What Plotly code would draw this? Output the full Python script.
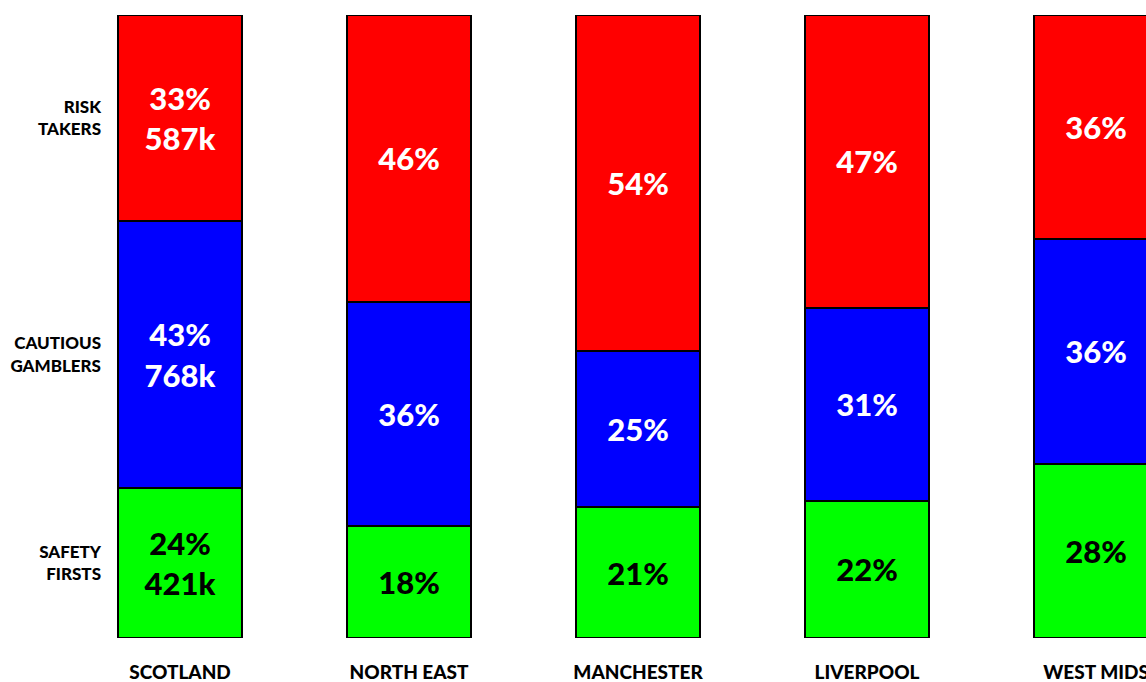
import plotly.graph_objects as go

regions = ["SCOTLAND", "NORTH EAST", "MANCHESTER", "LIVERPOOL", "WEST MIDS"]
safety_firsts = [24, 18, 21, 22, 28]
cautious_gamblers = [43, 36, 25, 31, 36]
risk_takers = [33, 46, 54, 47, 36]

# only Scotland carries head counts
scotland_counts = {"safety": "421k", "cautious": "768k", "risk": "587k"}

group_labels = ["SAFETY<br>FIRSTS", "CAUTIOUS<br>GAMBLERS", "RISK<br>TAKERS"]

FONT = "Lato"


def _labels(values, key):
    out = []
    for i, v in enumerate(values):
        txt = f"{v}%"
        if i == 0:
            txt += "<br>" + scotland_counts[key]
        out.append(txt)
    return out


series = [
    (safety_firsts, "safety", "#00FF00", "black"),
    (cautious_gamblers, "cautious", "#0000FF", "white"),
    (risk_takers, "risk", "#FF0000", "white"),
]

fig = go.Figure()
for values, key, colour, text_colour in series:
    fig.add_trace(go.Bar(
        x=list(range(len(regions))),
        y=values,
        marker=dict(color=colour, line=dict(color="black", width=2)),
        text=_labels(values, key),
        textposition="inside",
        insidetextanchor="middle",
        textangle=0,
        textfont=dict(family=FONT, size=31, color=text_colour, weight=900),
        hoverinfo="skip",
    ))

# y labels sit at the middle of each Scotland segment
mids = []
base = 0
for values, _, _, _ in series:
    mids.append(base + values[0] / 2)
    base += values[0]

fig.update_layout(
    barmode="stack",
    bargap=0.4585,
    showlegend=False,
    width=1146,
    height=682,
    plot_bgcolor="white",
    paper_bgcolor="white",
    margin=dict(l=110, r=0, t=15, b=44),
    uniformtext=dict(minsize=31, mode="show"),
)

fig.update_xaxes(
    range=[-0.3057, 4.218],
    tickvals=list(range(len(regions))),
    ticktext=regions,
    showgrid=False,
    zeroline=False,
    showline=False,
    ticks="",
    automargin=False,
    ticklabelstandoff=21,
    ticklabeloverflow="allow",
    tickfont=dict(family=FONT, size=19, color="black", weight=900),
)

fig.update_yaxes(
    range=[0, 100],
    tickvals=mids,
    ticktext=group_labels,
    showgrid=False,
    zeroline=False,
    showline=False,
    ticks="",
    automargin=False,
    ticklabelstandoff=8,
    tickfont=dict(family=FONT, size=17, color="black", weight=900),
)

# drop the default body margin so the figure fills the window exactly
fig.write_html(
    "out.html",
    config={"displayModeBar": False},
    post_script="document.body.style.margin='0';document.body.style.overflow='hidden';",
)
